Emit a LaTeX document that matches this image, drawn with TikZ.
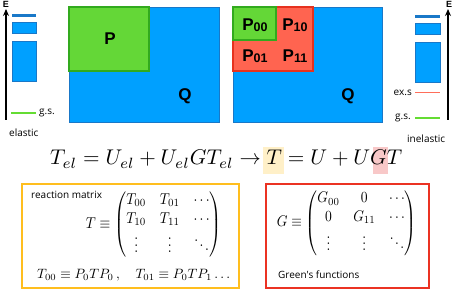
\documentclass[tikz,border=0pt]{standalone}
\usepackage{amsmath}
\usepackage{graphicx}
\usepackage{fontspec}
\newfontfamily\labfont{Liberation Sans}
\newfontfamily\txtfont{Open Sans}
\usetikzlibrary{arrows.meta}
\definecolor{blueF}{RGB}{0,160,255}
\definecolor{blueD}{RGB}{25,120,200}
\definecolor{greenF}{RGB}{100,215,55}
\definecolor{greenD}{RGB}{50,170,30}
\definecolor{redF}{RGB}{255,100,80}
\definecolor{redD}{RGB}{230,50,30}
\definecolor{yellowB}{RGB}{255,190,30}
\definecolor{redB}{RGB}{235,50,35}
\definecolor{hlY}{RGB}{255,240,200}
\definecolor{hlR}{RGB}{248,200,200}
\definecolor{gsLine}{RGB}{100,220,50}
\definecolor{exLine}{RGB}{255,110,90}
\begin{document}
\begin{tikzpicture}[x=1pt,y=-1pt,
  blueblk/.style={fill=blueF, draw=blueD, line width=0.8pt},
  greenblk/.style={fill=greenF, draw=greenD, line width=1.2pt},
  redblk/.style={fill=redF, draw=redD, line width=1.2pt},
  biglab/.style={font=\labfont\bfseries\fontsize{17}{17}\selectfont, inner sep=0pt},
  smalltxt/.style={font=\txtfont\fontsize{10}{12}\selectfont, inner sep=0pt},
  elab/.style={font=\labfont\bfseries\fontsize{9}{9}\selectfont, inner sep=0pt},
  energy/.style={line width=1.6pt, -{Stealth[length=7pt,width=6pt]}},
  framebox/.style={line width=1.6pt},
  gsline/.style={draw=gsLine, line width=1.5pt},
  exline/.style={draw=exLine, line width=1.5pt}]
\useasboundingbox (0,0) rectangle (455,291);
% ---------- top boxes ----------
\path[blueblk] (69,7) rectangle (219,122);
\path[greenblk] (69,7) rectangle (149,71);
\node[biglab] (P) at (110,39) {P};
\node[biglab] (Q1) at (185,96) {Q};
\path[blueblk] (233,7) rectangle (382,122);
\path[redblk] (233,7) rectangle (313,71);
\path[greenblk] (233,7) rectangle (276,40);
\newcommand{\sbx}[1]{\raisebox{-1.5pt}{\fontsize{12.5}{12.5}\selectfont #1}}
\node[biglab] (P00) at (255,25) {P\sbx{00}};
\node[biglab] (P10) at (295,25) {P\sbx{10}};
\node[biglab] (P01) at (255,56) {P\sbx{01}};
\node[biglab] (P11) at (295,56) {P\sbx{11}};
\node[biglab] (Q2) at (348,96) {Q};
% ---------- left level scheme ----------
\coordinate (eLb) at (6,120);
\coordinate (eLt) at (6,9);
\draw[energy] (eLb) -- (eLt);
\node[elab] (EL) at (6,4) {E};
\path[fill=blueD] (12,14) rectangle (36,17);
\path[blueblk] (12,22) rectangle (36,33);
\path[blueblk] (12,41) rectangle (36,81);
\coordinate (gsLa) at (11,113);
\coordinate (gsLb) at (36,113);
\draw[gsline] (gsLa) -- (gsLb);
\node[smalltxt, anchor=west] (gsL) at (39,113) {g.s.};
\node[smalltxt, anchor=west] (el) at (9,133) {elastic};
% ---------- right level scheme ----------
\coordinate (eRb) at (448,120);
\coordinate (eRt) at (448,9);
\draw[energy] (eRb) -- (eRt);
\node[elab] (ER) at (449,4) {E};
\path[fill=blueD] (415,15) rectangle (440,18);
\path[blueblk] (415,23) rectangle (440,34);
\path[blueblk] (415,42) rectangle (440,82);
\coordinate (exa) at (415,92.5);
\coordinate (exb) at (440,92.5);
\draw[exline] (exa) -- (exb);
\coordinate (gsRa) at (415,118);
\coordinate (gsRb) at (440,118);
\draw[gsline] (gsRa) -- (gsRb);
\node[smalltxt, anchor=east] (exs) at (412,92.5) {ex.s};
\node[smalltxt, anchor=east] (gsR) at (411,118) {g.s.};
\node[smalltxt, anchor=west] (inel) at (407,139) {inelastic};
% ---------- equation ----------
\path[fill=hlY] (263,147) rectangle (284,174);
\path[fill=hlR] (373,147) rectangle (388,174);
\node[anchor=base west, inner sep=0pt] (eq) at (50,165)
  {\resizebox{352pt}{!}{$T_{el} = U_{el} + U_{el} G T_{el} \rightarrow T = U + U G T$}};
% ---------- reaction matrix ----------
\draw[framebox, draw=yellowB] (22,184) rectangle (239,288);
\node[smalltxt, anchor=west] (rm) at (31,195) {reaction matrix};
\node[anchor=east, inner sep=0pt] (Tm) at (222,224.5)
  {\resizebox*{136pt}{67pt}{$T \equiv \begin{pmatrix} T_{00} & T_{01} & \cdots \\ T_{10} & T_{11} & \cdots \\ \vdots & \vdots & \ddots \end{pmatrix}$}};
\node[anchor=west, inner sep=0pt] (Tdef) at (37,275)
  {\resizebox{193pt}{!}{$T_{00} \equiv P_0 T P_0\,, \quad T_{01} \equiv P_0 T P_1 \ldots$}};
% ---------- Green's functions ----------
\draw[framebox, draw=redB] (266,184) rectangle (429,288);
\node[anchor=east, inner sep=0pt] (Gm) at (417,223)
  {\resizebox*{140pt}{66pt}{$G \equiv \begin{pmatrix} G_{00} & 0 & \cdots \\ 0 & G_{11} & \cdots \\ \vdots & \vdots & \ddots \end{pmatrix}$}};
\node[smalltxt, anchor=west] (gf) at (278,275) {Green's functions};
\end{tikzpicture}
\end{document}
